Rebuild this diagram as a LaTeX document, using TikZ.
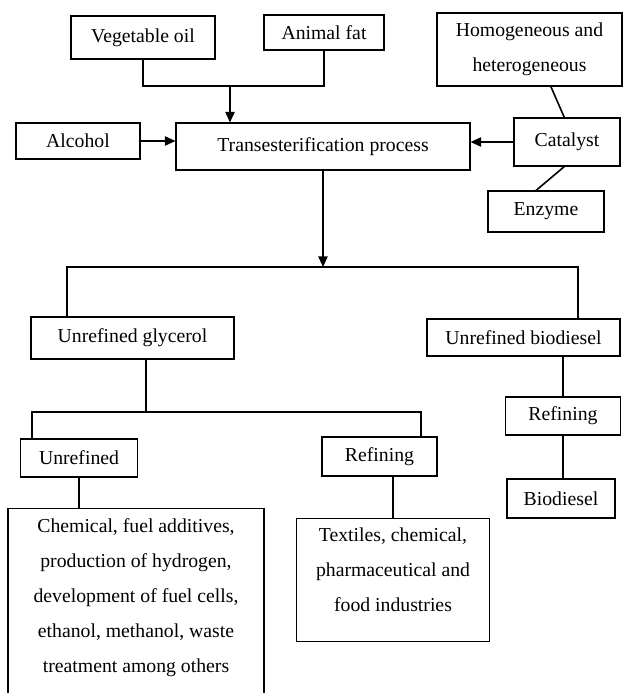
\documentclass[tikz,border=0pt]{standalone}
\usepackage{fontspec}
\setmainfont{Liberation Serif}
\usetikzlibrary{positioning,arrows.meta}
\tikzset{
  node-box/.style={draw,line width=0.8pt,align=center,inner sep=2pt,
    font=\fontsize{14.8}{26.25}\selectfont},
  link/.style={line width=1.2pt},
  arrow/.style={-{Triangle[length=8pt,width=7pt]},line width=1.2pt},
}

\begin{document}
\begin{tikzpicture}[x=0.75pt,y=-0.75pt]
  \useasboundingbox (0,0) rectangle (625,693);
  \clip (0,0) rectangle (625,693);
  % feedstock and reagents
  \node[node-box,minimum width=108pt,minimum height=32.25pt] (veg) at (143,37.5) {Vegetable oil};
  \node[node-box,minimum width=90pt,minimum height=26.25pt] (fat) at (324,32.5) {Animal fat};
  \node[node-box,minimum width=138.75pt,minimum height=54.75pt] (cat-type) at (529.5,49.5) {Homogeneous and\\heterogeneous};
  \node[node-box,minimum width=93pt,minimum height=27pt] (alc) at (78,141) {Alcohol};
  \node[node-box,minimum width=220.5pt,minimum height=35.25pt] (trans) at (323,146.5) {Transesterification process};
  \node[node-box,minimum width=79.5pt,minimum height=36pt] (cat) at (567,142) {Catalyst};
  \node[node-box,minimum width=87pt,minimum height=30.75pt] (enz) at (546,211.5) {Enzyme};
  % products
  \node[node-box,minimum width=152.25pt,minimum height=31.5pt] (glyc) at (132.5,338) {Unrefined glycerol};
  \node[node-box,minimum width=144.75pt,minimum height=27.75pt] (ubio) at (523.5,337.5) {Unrefined biodiesel};
  \node[node-box,minimum width=86.25pt,minimum height=28.5pt] (rbio) at (563,416) {Refining};
  \node[node-box,minimum width=81pt,minimum height=29.25pt] (bdsl) at (561,498.5) {Biodiesel};
  \node[node-box,minimum width=87.75pt,minimum height=28.5pt] (unref) at (79,458) {Unrefined};
  \node[node-box,minimum width=86.25pt,minimum height=29.25pt] (refg) at (379.5,456.5) {Refining};
  \node[node-box,anchor=north,minimum width=192pt,inner ysep=7.5pt,text depth=200pt] (uses) at (136,508)
    {Chemical, fuel additives,\\production of hydrogen,\\development of fuel cells,\\ethanol, methanol, waste\\treatment among others};
  \node[node-box,anchor=north,minimum width=144.75pt,inner ysep=6.75pt,text depth=16.25pt] (ind) at (393,518)
    {Textiles, chemical,\\pharmaceutical and\\food industries};
  % inputs
  \coordinate (feed) at (230,86);
  \draw[link] (veg.south) -- (veg.south |- feed) -- (fat.south |- feed) -- (fat.south);
  \draw[arrow] (feed) -- (feed |- trans.north);
  \draw[arrow] (alc.east) -- (alc.east -| trans.west);
  \draw[arrow] (cat.west) -- (cat.west -| trans.east);
  \draw[link] ([xshift=16pt]cat-type.south) -- ([xshift=-2pt]cat.north);
  \draw[link] ([xshift=-2pt]cat.south) -- ([xshift=-7.5pt]enz.north);
  % outputs
  \coordinate (split) at (323,267);
  \coordinate (split-l) at (67,267);
  \coordinate (split-r) at (578,267);
  \draw[arrow] (trans.south) -- (split);
  \draw[link] (split-l |- glyc.north) -- (split-l) -- (split-r) -- (split-r |- ubio.north);
  \coordinate (gly-split) at (146,412);
  \coordinate (gly-l) at (32,412);
  \coordinate (gly-r) at (421,412);
  \draw[link] (glyc.south -| gly-split) -- (gly-split);
  \draw[link] (gly-l |- unref.north) -- (gly-l) -- (gly-r) -- (gly-r |- refg.north);
  \draw[link] (unref.south) -- (unref.south |- uses.north);
  \draw[link] (refg.south -| ind.north) -- (ind.north);
  \draw[link] (ubio.south -| rbio.north) -- (rbio.north);
  \draw[link] (rbio.south) -- (rbio.south |- bdsl.north);
\end{tikzpicture}
\end{document}
